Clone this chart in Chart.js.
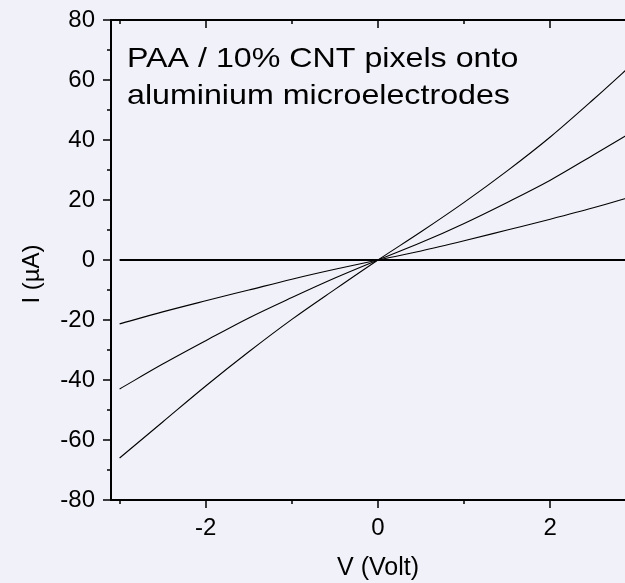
<!DOCTYPE html>
<html>
<head>
<meta charset="utf-8">
<script src="https://cdn.jsdelivr.net/npm/chart.js@4/dist/chart.umd.min.js"></script>
<style>
html,body{margin:0;padding:0;overflow:hidden;background:#f1f1f9;}
canvas{display:block;}
</style>
</head>
<body>
<canvas id="c" width="660" height="583"></canvas>
<script>
const voltage = [-3, -2.5, -2, -1.5, -1, -0.5, 0, 0.5, 1, 1.5, 2, 2.5, 3];
const current0 = [0, 0, 0, 0, 0, 0, 0, 0, 0, 0, 0, 0, 0];
const current1 = [-21.3, -17.3, -13.6, -10, -6.4, -3.1, 0, 3, 6.4, 10, 13.6, 17.4, 21.6];
const current2 = [-43, -34.7, -26.9, -19.3, -12.5, -6, 0, 5.8, 12.2, 19.2, 26.6, 35, 43.5];
const current3 = [-66, -54, -42, -30.6, -19.8, -9.8, 0, 9.4, 19.2, 29.7, 41, 53.5, 66.5];
const xMajorTicks = [-2, 0, 2];
const xMinorTicks = [-3, -1, 1, 3];
const yMajorTicks = [-80, -60, -40, -20, 0, 20, 40, 60, 80];
const yMinorTicks = [-70, -50, -30, -10, 10, 30, 50, 70];
const annotationLines = ['PAA / 10% CNT pixels onto', 'aluminium microelectrodes'];
const xTitle = 'V (Volt)';
const yTitle = 'I (\u00b5A)';

const FONT = "'Liberation Sans', Arial, sans-serif";

function pts(arr){ return voltage.map((v,i)=>({x:v,y:arr[i]})); }

const framePlugin = {
  id: 'frame',
  afterDraw(chart){
    const ctx = chart.ctx, a = chart.chartArea;
    const xs = chart.scales.x, ys = chart.scales.y;
    ctx.save();
    ctx.strokeStyle = '#000';
    ctx.lineWidth = 2;
    ctx.beginPath();
    ctx.moveTo(a.left, a.top); ctx.lineTo(a.left, a.bottom);
    ctx.moveTo(a.left-1, a.bottom); ctx.lineTo(a.right, a.bottom);
    ctx.moveTo(a.left-1, a.top); ctx.lineTo(a.right, a.top);
    ctx.moveTo(a.right, a.top); ctx.lineTo(a.right, a.bottom);
    ctx.stroke();
    ctx.lineWidth = 1.5;
    ctx.beginPath();
    yMajorTicks.forEach(v=>{const p=Math.round(ys.getPixelForValue(v)); ctx.moveTo(a.left,p); ctx.lineTo(a.left-8,p);});
    yMinorTicks.forEach(v=>{const p=Math.round(ys.getPixelForValue(v)); ctx.moveTo(a.left,p); ctx.lineTo(a.left-4,p);});
    xMajorTicks.forEach(v=>{const p=Math.round(xs.getPixelForValue(v));
      ctx.moveTo(p,a.bottom); ctx.lineTo(p,a.bottom+8);
      ctx.moveTo(p,a.top); ctx.lineTo(p,a.top+8);});
    xMinorTicks.forEach(v=>{const p=Math.round(xs.getPixelForValue(v));
      ctx.moveTo(p,a.bottom); ctx.lineTo(p,a.bottom+4);
      ctx.moveTo(p,a.top); ctx.lineTo(p,a.top+4);});
    ctx.stroke();
    // annotation
    ctx.fillStyle = '#000';
    ctx.font = '28px ' + FONT;
    ctx.textBaseline = 'alphabetic';
    ctx.textAlign = 'left';
    ctx.save();
    ctx.translate(a.left+16, 0);
    ctx.scale(1.15, 1);
    ctx.fillText(annotationLines[0], 0, 67);
    ctx.fillText(annotationLines[1], 0, 104);
    ctx.restore();
    // y title
    ctx.font = '24px ' + FONT;
    ctx.translate(32, 274);
    ctx.rotate(-Math.PI/2);
    ctx.textAlign = 'center';
    ctx.textBaseline = 'middle';
    ctx.fillText(yTitle, 0, 0);
    ctx.restore();
  }
};

const lineStyle = {borderColor:'#000', borderWidth:1.1, pointRadius:0, fill:false, cubicInterpolationMode:'monotone'};

new Chart(document.getElementById('c'), {
  type: 'line',
  data: {
    datasets: [
      Object.assign({label:'0', data: pts(current0)}, lineStyle, {borderWidth:2}),
      Object.assign({label:'1', data: pts(current1)}, lineStyle),
      Object.assign({label:'2', data: pts(current2)}, lineStyle),
      Object.assign({label:'3', data: pts(current3)}, lineStyle)
    ]
  },
  options: {
    responsive: false,
    animation: false,
    layout: {padding: {top: 20, right: 15, left: 0, bottom: 0}},
    plugins: {legend:{display:false}, tooltip:{enabled:false}},
    scales: {
      x: {
        type: 'linear', min: -3.1, max: 3.1,
        afterBuildTicks(s){ s.ticks = xMajorTicks.map(v=>({value:v})); },
        afterFit(s){ s.height = 83; s.paddingLeft = 0; s.paddingRight = 0; },
        grid: {display:false, drawTicks:false},
        border: {display:false},
        ticks: {color:'#000', font:{family:FONT, size:24}, padding:14, maxRotation:0},
        title: {display:true, text:xTitle, color:'#000', font:{family:FONT, size:25}, padding:{top:4, bottom:0}}
      },
      y: {
        type: 'linear', min: -80, max: 80,
        afterBuildTicks(s){ s.ticks = yMajorTicks.map(v=>({value:v})); },
        afterFit(s){ s.width = 111; s.paddingTop = 0; s.paddingBottom = 0; },
        grid: {display:false, drawTicks:false},
        border: {display:false},
        ticks: {color:'#000', font:{family:FONT, size:24}, padding:16}
      }
    }
  },
  plugins: [framePlugin]
});
</script>
</body>
</html>
